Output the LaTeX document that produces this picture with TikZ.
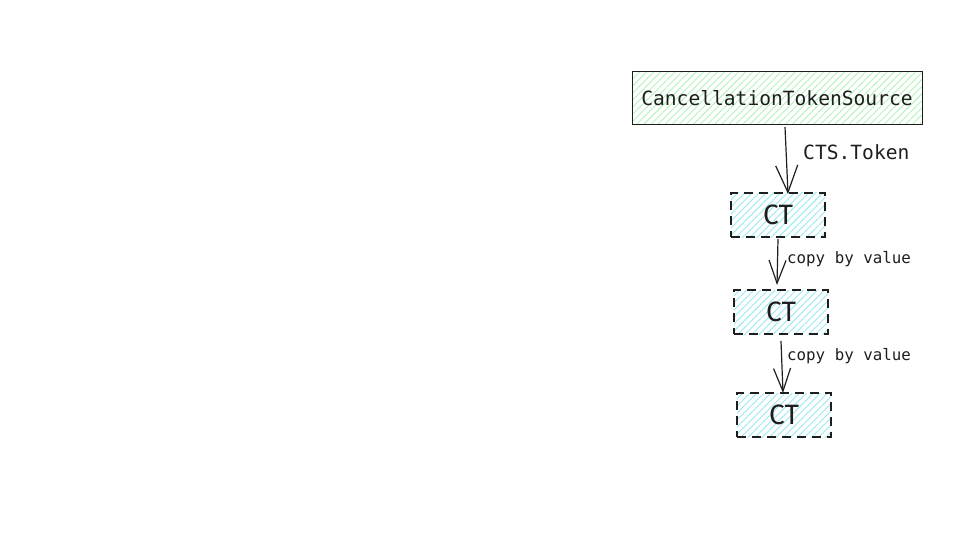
\documentclass[tikz,border=0pt]{standalone}
\usepackage{fontspec}
\setmainfont{Fira Sans}
\newfontfamily\monofont{DejaVu Sans Mono}
\usetikzlibrary{arrows.meta,patterns.meta}
\definecolor{ink}{HTML}{1E1E1E}
\definecolor{hgreen}{HTML}{B2F2BB}
\definecolor{hcyan}{HTML}{99E9F2}
\tikzset{
  srcbox/.style={draw=ink, line width=1pt, minimum width=290pt, minimum height=53pt,
    pattern={Lines[angle=45,distance=5pt,line width=0.9pt]}, pattern color=hgreen,
    font=\monofont\fontsize{19.6}{19.6}\selectfont, text=ink, inner sep=0pt},
  ctbox/.style={draw=ink, line width=1.4pt, dash pattern=on 9pt off 6pt,
    minimum width=94pt, minimum height=44pt,
    pattern={Lines[angle=45,distance=5pt,line width=0.9pt]}, pattern color=hcyan,
    font=\fontsize{28}{28}\selectfont, text=ink, inner sep=0pt},
  conn/.style={draw=ink, line width=1.2pt},
  bigtip/.style={-{Straight Barb[length=27pt,width=22pt,line width=1.2pt]}},
  smalltip/.style={-{Straight Barb[length=23pt,width=17pt,line width=1.2pt]}},
  biglabel/.style={font=\monofont\fontsize{19.6}{19.6}\selectfont, text=ink, anchor=west, inner sep=0pt},
  smalllabel/.style={font=\monofont\fontsize{15.8}{15.8}\selectfont, text=ink, anchor=west, inner sep=0pt},
}
\begin{document}
\begin{tikzpicture}[x=1pt,y=-1pt]
\useasboundingbox (0,0) rectangle (955,556);
\node[srcbox] (cts) at (777,98.5) {CancellationTokenSource};
\node[ctbox] (ct1) at (778,215) {CT};
\node[ctbox] (ct2) at (781,312) {CT};
\node[ctbox] (ct3) at (784,415) {CT};
\coordinate (a0) at (785,127);
\coordinate (a1) at (788,194);
\coordinate (b0) at (778,239);
\coordinate (b1) at (777,285);
\coordinate (c0) at (781,341);
\coordinate (c1) at (783,393);
\draw[conn,bigtip] (a0) -- (a1);
\draw[conn,smalltip] (b0) -- (b1);
\draw[conn,smalltip] (c0) -- (c1);
\node[biglabel] (l1) at (803,152) {CTS.Token};
\node[smalllabel] (l2) at (787,259) {copy by value};
\node[smalllabel] (l3) at (787,356) {copy by value};
\end{tikzpicture}
\end{document}
